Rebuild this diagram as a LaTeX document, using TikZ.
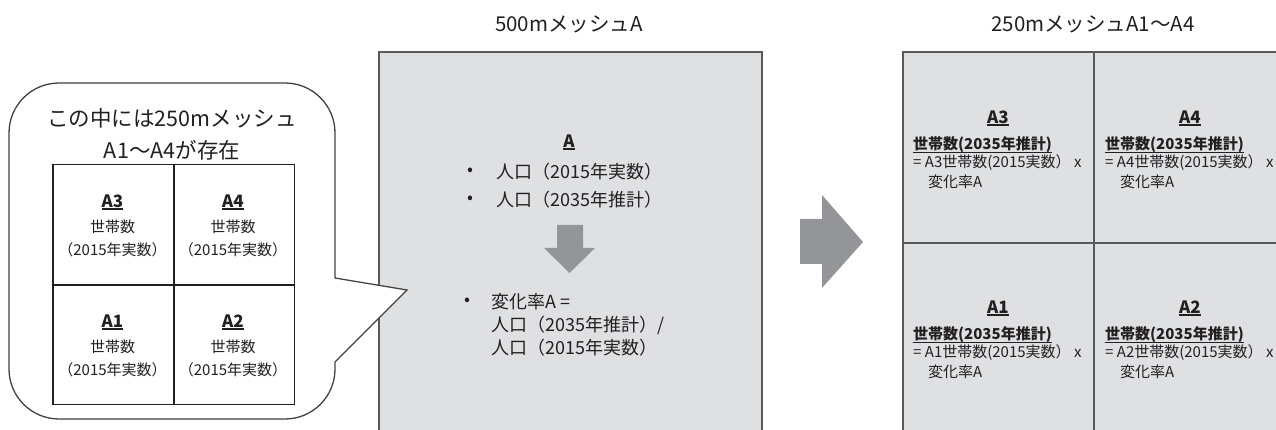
\documentclass[tikz,border=0pt]{standalone}
\usepackage{fontspec}
\setmainfont{Noto Sans CJK JP}
\definecolor{boxfill}{HTML}{DFE0E2}
\definecolor{border}{HTML}{58595B}
\definecolor{arrowgray}{HTML}{939598}
\definecolor{txt}{HTML}{231F20}
\newcommand\fsz[1]{\fontsize{#1}{#1}\selectfont}
\newcommand\myul[2]{\setbox0=\hbox{#2}\rlap{\raisebox{-#1}{\rule{\wd0}{1.3pt}}}\box0}
\tikzset{
  lbl/.style={inner sep=0pt, text=txt},
  bigcell/.style={draw=border, fill=boxfill, line width=1.8pt, anchor=north west, inner sep=0pt},
  smallcell/.style={draw=txt, fill=white, line width=1.5pt, anchor=north west, inner sep=0pt, minimum width=120.5pt, minimum height=119.5pt},
  bubble/.style={draw=txt!85, fill=white, line width=1.3pt},
  blockarrow/.style={fill=arrowgray, draw=none},
}
\begin{document}
\begin{tikzpicture}[x=1pt,y=-1pt]
\useasboundingbox (0,0) rectangle (1276,430);
\clip (0,0) rectangle (1276,430);

% titles
\node[lbl] (t500) at (569,24) {\fsz{20.5}500mメッシュA};
\node[lbl] (t250) at (1093,24) {\fsz{20.5}250mメッシュA1～A4};

% 500m mesh box
\node[bigcell, minimum width=383pt, minimum height=420pt] (boxA) at (378,51) {};

% speech bubble
\draw[bubble] (335,362) -- (335,369) arc (0:90:50) -- (59,419) arc (90:180:50)
  -- (9,133) arc (180:270:50) -- (285,83) arc (270:360:50) -- (335,278) -- (407,290) -- cycle;
\node[lbl] (b1) at (172,118) {\fsz{21.5}この中には250mメッシュ};
\node[lbl] (b2) at (172,150) {\fsz{21.5}A1～A4が存在};

% inner grid
\node[smallcell] (s3) at (52,164) {};
\node[smallcell] (s4) at (173,164) {};
\node[smallcell] (s1) at (52,284) {};
\node[smallcell] (s2) at (173,284) {};
\foreach \n/\cx/\cy in {A3/112.5/202, A4/233/202, A1/112.5/322, A2/233/322}{
  \node[lbl] (sh\n) at (\cx,\cy) {\fsz{17}\bfseries\myul{2.5pt}{\n}};
  \node[lbl] (sa\n) at (\cx,\cy+25) {\fsz{15}世帯数};
  \node[lbl] (sb\n) at (\cx,\cy+48) {\fsz{15}（2015年実数）};
}

% content of box A
\node[lbl] (hA) at (569,142) {\fsz{17}\bfseries\myul{2.5pt}{A}};
\node[lbl] (d1) at (470,172) {\fsz{17.5}•};
\node[lbl, anchor=west] (p1) at (496,172) {\fsz{18}人口（2015年実数）};
\node[lbl] (d2) at (470,200) {\fsz{17.5}•};
\node[lbl, anchor=west] (p2) at (496,200) {\fsz{18}人口（2035年推計）};
\fill[blockarrow] (557,225) -- (583,225) -- (583,248) -- (595,248) -- (569.5,273) -- (544,248) -- (557,248) -- cycle;
\node[lbl] (d3) at (467,302) {\fsz{17.5}•};
\node[lbl, anchor=west] (r1) at (491,302) {\fsz{18}変化率A =};
\node[lbl, anchor=west] (r2) at (491,325) {\fsz{18}人口（2035年推計）/};
\node[lbl, anchor=west] (r3) at (491,348) {\fsz{18}人口（2015年実数）};

% big right arrow
\fill[blockarrow] (800,219) -- (822,219) -- (822,195) -- (863,242) -- (822,288) -- (822,264) -- (800,264) -- cycle;

% 250m mesh grid
\node[bigcell, minimum width=191pt, minimum height=191pt] (c3) at (902,51) {};
\node[bigcell, minimum width=191pt, minimum height=191pt] (c4) at (1093,51) {};
\node[bigcell, minimum width=191pt, minimum height=200pt] (c1) at (902,242) {};
\node[bigcell, minimum width=191pt, minimum height=200pt] (c2) at (1093,242) {};
\foreach \n/\lx/\cy in {A3/913/118, A4/1105/118, A1/913/308, A2/1105/308}{
  \node[lbl] (h\n) at (\lx+85,\cy) {\fsz{17}\bfseries\myul{2.5pt}{\n}};
  \node[lbl, anchor=west] (e\n) at (\lx,\cy+27) {\fsz{15}\bfseries\myul{3.5pt}{世帯数(2035年推計)}};
  \node[lbl, anchor=west] (f\n) at (\lx,\cy+45) {\fsz{15}= \n 世帯数(2015実数） x};
  \node[lbl, anchor=west] (g\n) at (\lx+15,\cy+64) {\fsz{15}変化率A};
}
\end{tikzpicture}
\end{document}
